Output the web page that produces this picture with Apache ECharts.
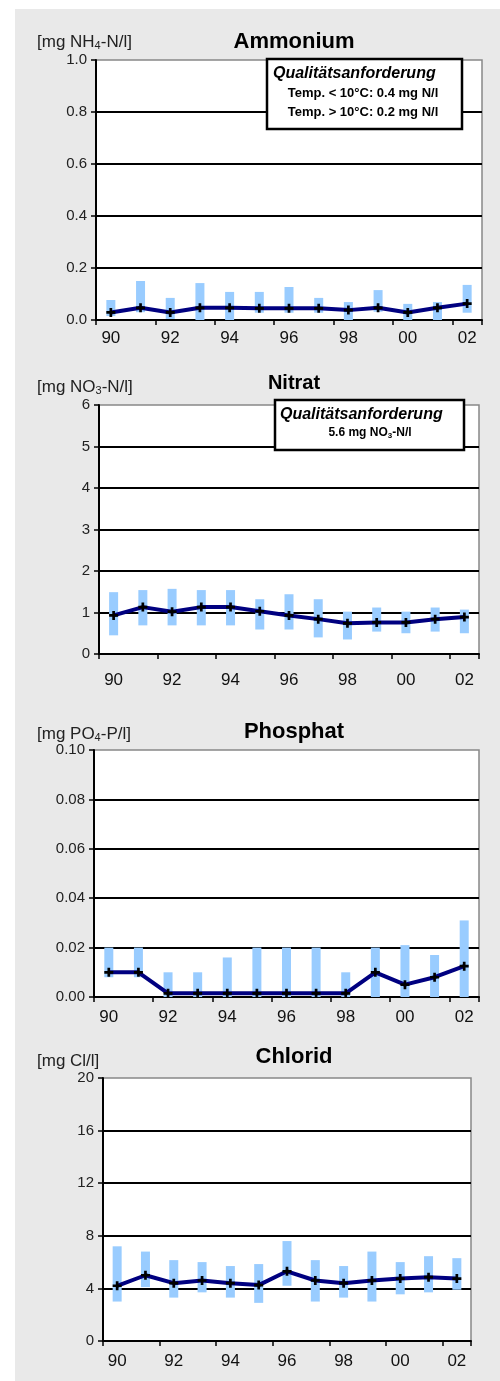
<!DOCTYPE html>
<html>
<head>
<meta charset="utf-8">
<script src="https://cdn.jsdelivr.net/npm/echarts@6/dist/echarts.min.js"></script>
<style>
html,body{margin:0;padding:0;background:#fff;}
#chart{width:500px;height:1381px;}
</style>
</head>
<body>
<div id="chart"></div>
<script>
// ---- data ----
const years = ['90','91','92','93','94','95','96','97','98','99','00','01','02'];

const ammMin  = [0.015, 0.030, 0.004, 0.000, 0.000, 0.028, 0.028, 0.028, 0.000, 0.032, 0.000, 0.000, 0.028];
const ammMax  = [0.077, 0.150, 0.085, 0.142, 0.108, 0.108, 0.127, 0.085, 0.069, 0.115, 0.062, 0.069, 0.135];
const ammMean = [0.029, 0.047, 0.029, 0.047, 0.047, 0.045, 0.045, 0.045, 0.038, 0.047, 0.029, 0.047, 0.063];

const no3Min  = [0.45, 0.69, 0.69, 0.69, 0.69, 0.59, 0.59, 0.40, 0.35, 0.54, 0.50, 0.54, 0.50];
const no3Max  = [1.49, 1.54, 1.57, 1.54, 1.54, 1.32, 1.44, 1.32, 1.02, 1.12, 1.02, 1.12, 1.07];
const no3Mean = [0.93, 1.13, 1.02, 1.13, 1.13, 1.03, 0.93, 0.84, 0.74, 0.76, 0.76, 0.84, 0.89];

const po4Min  = [0.008, 0.008, 0, 0, 0, 0, 0, 0, 0, 0, 0, 0, 0];
const po4Max  = [0.020, 0.020, 0.010, 0.010, 0.016, 0.020, 0.020, 0.020, 0.010, 0.020, 0.021, 0.017, 0.031];
const po4Mean = [0.010, 0.010, 0.0015, 0.0015, 0.0015, 0.0015, 0.0015, 0.0015, 0.0015, 0.010, 0.005, 0.008, 0.0125];

const clMin  = [3.0, 4.1, 3.3, 3.7, 3.3, 2.9, 4.2, 3.0, 3.3, 3.0, 3.55, 3.7, 3.9];
const clMax  = [7.2, 6.8, 6.15, 6.0, 5.7, 5.85, 7.6, 6.15, 5.7, 6.8, 6.0, 6.45, 6.3];
const clMean = [4.2, 5.0, 4.4, 4.6, 4.4, 4.25, 5.3, 4.6, 4.4, 4.6, 4.75, 4.85, 4.75];

const titles = ['Ammonium', 'Nitrat', 'Phosphat', 'Chlorid'];
const yMin = [0, 0, 0, 0];
const yMax = [1.0, 6, 0.10, 20];
const yStep = [0.2, 1, 0.02, 4];
const yDecimals = [1, 0, 2, 0];

// ---- layout ----
const FONT = "'Liberation Sans', Arial, sans-serif";
const panels = [
  {grid:{left:96, top:60,  width:386, height:260}, lo:ammMin, hi:ammMax, mean:ammMean, xMargin:10, titleY:42,  titleSize:22, unitY:42},
  {grid:{left:99, top:405, width:380, height:249}, lo:no3Min, hi:no3Max, mean:no3Mean, xMargin:18, titleY:383, titleSize:20, unitY:387},
  {grid:{left:94, top:750, width:385, height:247}, lo:po4Min, hi:po4Max, mean:po4Mean, xMargin:12, titleY:732, titleSize:22, unitY:734},
  {grid:{left:103,top:1078,width:368, height:263}, lo:clMin, hi:clMax, mean:clMean, xMargin:12, titleY:1057,titleSize:22, unitY:1061}
];
const units = [
  '[mg NH{s|4}-N/l]',
  '[mg NO{s|3}-N/l]',
  '[mg PO{s|4}-P/l]',
  '[mg Cl/l]'
];

const plus = 'path://M3.5,0H6.5V3.5H10V6.5H6.5V10H3.5V6.5H0V3.5H3.5Z';

const grids = [], xAxes = [], yAxes = [], series = [], graphics = [];

graphics.push({type:'rect', shape:{x:15, y:9, width:485, height:1372}, style:{fill:'#e9e9e9'}, z:-10, silent:true});

panels.forEach((p, i) => {
  grids.push(Object.assign({show:true, backgroundColor:'#ffffff', borderColor:'#888888', borderWidth:1.5, containLabel:false}, p.grid));
  xAxes.push({
    type:'category', gridIndex:i, data:years, boundaryGap:true,
    axisLine:{lineStyle:{color:'#000', width:2}},
    axisTick:{show:true, length:5, lineStyle:{color:'#000', width:1.5}},
    axisLabel:{interval:1, color:'#111', fontFamily:FONT, fontSize:17, margin:p.xMargin},
    splitLine:{show:false}
  });
  yAxes.push({
    type:'value', gridIndex:i, min:yMin[i], max:yMax[i], interval:yStep[i],
    axisLine:{show:true, lineStyle:{color:'#000', width:2}},
    axisTick:{show:true, length:5, lineStyle:{color:'#000', width:1.5}},
    axisLabel:{color:'#222', fontFamily:FONT, fontSize:15, margin:9,
      formatter: v => v.toFixed(yDecimals[i])},
    splitLine:{show:true, showMaxLine:false, lineStyle:{color:'#000', width:2}}
  });
  const stackId = 'rng' + i;
  series.push({
    type:'bar', xAxisIndex:i, yAxisIndex:i, stack:stackId, barWidth:9, silent:true,
    itemStyle:{color:'rgba(0,0,0,0)'}, data:p.lo
  });
  series.push({
    type:'bar', xAxisIndex:i, yAxisIndex:i, stack:stackId, barWidth:9, silent:true,
    itemStyle:{color:'#99ccff'}, data:p.hi.map((h, k) => +(h - p.lo[k]).toFixed(5))
  });
  series.push({
    type:'line', xAxisIndex:i, yAxisIndex:i, data:p.mean, z:5, silent:true,
    symbol:plus, symbolSize:9, showSymbol:true, showAllSymbol:true,
    itemStyle:{color:'#000'}, lineStyle:{color:'#000080', width:4}
  });
  graphics.push({type:'text', x:294, y:p.titleY, z:10,
    style:{text:titles[i], font:`bold ${p.titleSize}px ${FONT}`, fill:'#000', textAlign:'center', textVerticalAlign:'middle'}});
  graphics.push({type:'text', x:37, y:p.unitY, z:10,
    style:{text:units[i], font:`17px ${FONT}`, fill:'#222', textAlign:'left', textVerticalAlign:'middle',
      rich:{s:{fontSize:11, fontFamily:FONT, fill:'#222', padding:[8,0,0,0]}}}});
});

// Annotation boxes
graphics.push({type:'group', z:20, children:[
  {type:'rect', shape:{x:267, y:59, width:195, height:70}, style:{fill:'#fff', stroke:'#000', lineWidth:2.5}, z:20},
  {type:'text', x:273, y:74, z:21, style:{text:'Qualitätsanforderung', font:`italic bold 16px ${FONT}`, fill:'#000', textAlign:'left', textVerticalAlign:'middle'}},
  {type:'text', x:363, y:93, z:21, style:{text:'Temp. < 10°C: 0.4 mg N/l', font:`bold 13px ${FONT}`, fill:'#000', textAlign:'center', textVerticalAlign:'middle'}},
  {type:'text', x:363, y:112, z:21, style:{text:'Temp. > 10°C: 0.2 mg N/l', font:`bold 13px ${FONT}`, fill:'#000', textAlign:'center', textVerticalAlign:'middle'}}
]});
graphics.push({type:'group', z:20, children:[
  {type:'rect', shape:{x:275, y:400, width:189, height:50}, style:{fill:'#fff', stroke:'#000', lineWidth:2.5}, z:20},
  {type:'text', x:280, y:415, z:21, style:{text:'Qualitätsanforderung', font:`italic bold 16px ${FONT}`, fill:'#000', textAlign:'left', textVerticalAlign:'middle'}},
  {type:'text', x:370, y:433, z:21, style:{text:'5.6 mg NO{s|3}-N/l', font:`bold 12px ${FONT}`, fill:'#000', textAlign:'center', textVerticalAlign:'middle',
    rich:{s:{fontSize:8, fontWeight:'bold', fontFamily:FONT, fill:'#000', padding:[5,0,0,0]}}}}
]});

const chart = echarts.init(document.getElementById('chart'), null, {renderer:'canvas', width:500, height:1381});
chart.setOption({
  animation:false,
  backgroundColor:'#ffffff',
  grid:grids, xAxis:xAxes, yAxis:yAxes, series:series, graphic:graphics
});
</script>
</body>
</html>
